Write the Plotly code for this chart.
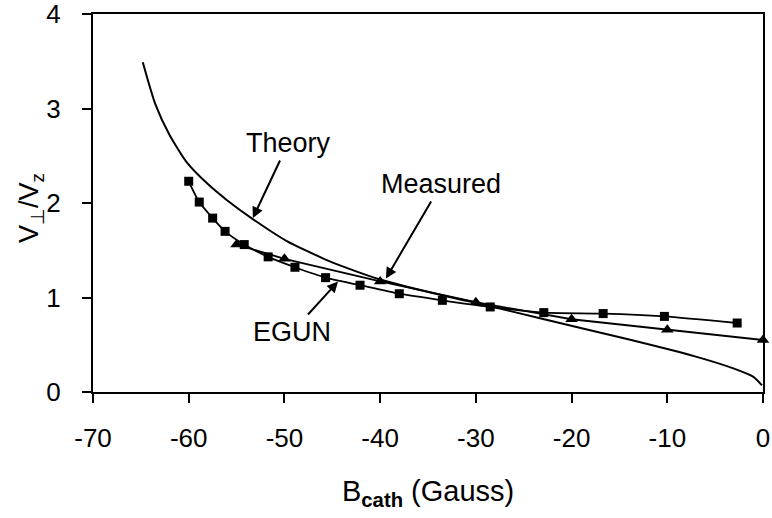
import plotly.graph_objects as go

# ---- data ----
theory_x = [-64.8, -63.5, -62.0, -60.2, -58.0, -56.0, -53.3, -49.8, -45.2, -40.0,
            -33.0, -29.0, -23.3, -14.2, -7.2, -3.1, -1.0, -0.1]
theory_y = [3.49, 3.05, 2.72, 2.43, 2.20, 2.03, 1.83, 1.60, 1.38, 1.19,
            1.01, 0.92, 0.78, 0.56, 0.38, 0.25, 0.16, 0.07]

egun_x = [-60.0, -58.9, -57.5, -56.2, -54.2, -51.7, -48.9, -45.7, -42.1, -38.0,
          -33.5, -28.5, -22.9, -16.7, -10.3, -2.7]
egun_y = [2.23, 2.01, 1.84, 1.70, 1.56, 1.43, 1.32, 1.21, 1.13, 1.04,
          0.97, 0.90, 0.84, 0.83, 0.80, 0.73]

measured_x = [-55, -50, -40, -30, -20, -10, 0]
measured_y = [1.56, 1.41, 1.17, 0.95, 0.77, 0.66, 0.55]

x_ticks = [-70, -60, -50, -40, -30, -20, -10, 0]
y_ticks = [0, 1, 2, 3, 4]

FONT = "Liberation Sans, Arial, sans-serif"

fig = go.Figure()
fig.add_trace(go.Scatter(x=theory_x, y=theory_y, mode="lines",
                         line=dict(color="black", width=2, shape="spline", smoothing=0.6),
                         name="Theory"))
fig.add_trace(go.Scatter(x=egun_x, y=egun_y, mode="lines+markers",
                         line=dict(color="black", width=1.8, shape="spline", smoothing=0.6),
                         marker=dict(symbol="square", size=9, color="black"),
                         name="EGUN"))
fig.add_trace(go.Scatter(x=measured_x, y=measured_y, mode="lines+markers",
                         line=dict(color="black", width=1.8),
                         marker=dict(symbol="triangle-up", size=11, color="black"),
                         cliponaxis=False,
                         name="Measured"))

# labels with arrows: (text, text-centre x, y, arrow-tip x, y)
labels = [
    ("Theory", -49.6, 2.635, -53.3, 1.84),
    ("Measured", -33.6, 2.20, -39.4, 1.20),
    ("EGUN", -49.2, 0.635, -44.4, 1.17),
]
for text, tx, ty, hx, hy in labels:
    fig.add_annotation(x=hx, y=hy, ax=tx, ay=ty, xref="x", yref="y",
                       axref="x", ayref="y", text=text, showarrow=True,
                       arrowhead=2, arrowsize=1.1, arrowwidth=2, arrowcolor="black",
                       borderpad=2,
                       font=dict(family=FONT, size=27, color="black"))

# axis titles
fig.add_annotation(xref="paper", yref="paper", x=0.5, y=0, yshift=-101,
                   xanchor="center", yanchor="middle",
                   text="B<sub><b>cath</b></sub> (Gauss)", showarrow=False,
                   font=dict(family=FONT, size=29, color="black"))
fig.add_annotation(xref="paper", yref="paper", x=0, xshift=-62, y=0.5, yshift=-5,
                   xanchor="center", yanchor="middle",
                   text="V<sub>⊥</sub>/V<sub>z</sub>", showarrow=False, textangle=-90,
                   font=dict(family=FONT, size=27, color="black"))

fig.update_layout(
    width=772, height=518,
    margin=dict(l=93, r=9, t=14, b=126),
    paper_bgcolor="white", plot_bgcolor="white",
    showlegend=False,
    font=dict(family=FONT, size=26, color="black"),
)
common = dict(showgrid=False, zeroline=False, showline=True, linecolor="black",
              linewidth=2, mirror=True, ticks="outside", ticklen=9, tickwidth=1.5,
              tickcolor="black", automargin=False, ticklabeloverflow="allow",
              tickfont=dict(family=FONT, size=26, color="black"))
fig.update_xaxes(range=[-70, 0], tickvals=x_ticks, ticktext=[str(v) for v in x_ticks],
                 ticklabelstandoff=13, **common)
fig.update_yaxes(range=[0, 4], tickvals=y_ticks, ticktext=[str(v) for v in y_ticks],
                 ticklabelstandoff=16, **common)

# remove the page's default 8px body margin so the figure sits at the window's corner
fig.write_html("out.html", config={"displayModeBar": False},
               post_script="document.body.style.margin='0';")
